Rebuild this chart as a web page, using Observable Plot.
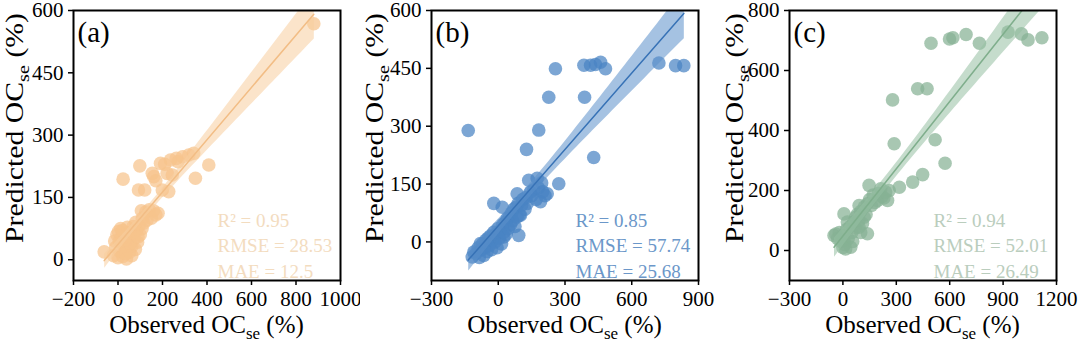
<!DOCTYPE html>
<html><head><meta charset="utf-8">
<script src="https://cdn.jsdelivr.net/npm/d3@7"></script>
<script src="https://cdn.jsdelivr.net/npm/@observablehq/plot@0.6"></script>
<style>
body{margin:0;background:#fff;}
#chart{display:flex;width:1080px;height:342px;}
#chart svg{display:block;}
</style></head><body><div id="chart"></div>
<script>
// ---------- data ----------
const panelLabels = ["(a)", "(b)", "(c)"];
const r2Values = ["0.95", "0.85", "0.94"];
const rmseValues = ["28.53", "57.74", "52.01"];
const maeValues = ["12.5", "25.68", "26.49"];

const xTicksA = [-200, 0, 200, 400, 600, 800, 1000];
const yTicksA = [0, 150, 300, 450, 600];
const xTicksB = [-300, 0, 300, 600, 900];
const yTicksB = [0, 150, 300, 450, 600];
const xTicksC = [-300, 0, 300, 600, 900, 1200];
const yTicksC = [0, 200, 400, 600, 800];

const aObserved = [880, -62, 23, 98, 92, 120, 154, 161, 191, 221, 199, 228, 244, 236, 262, 290, 318, 340, 348, 408, 210, 270, 170,
  105, 125, 140, 160, 180, 150, 130, 115, 170,
  -20, -10, -5, 0, 5, 10, 12, 18, 22, 28, 32, 38, 42, 48, 52, 58, 62, 68, 72, 78, 84, 88, 95, 100, 108, 62, 30, 15, 45, 80,
  -15, 2, 20, 35, 55, 70, 90, 110];
const aPredicted = [568, 19, 194, 226, 168, 168, 208, 200, 232, 208, 168, 164, 204, 240, 244, 248, 252, 256, 196, 228, 230, 236, 190,
  118, 115, 120, 118, 112, 100, 95, 88, 108,
  10, 30, 60, 5, 45, 20, 75, 40, 8, 62, 28, 2, 78, 45, 18, 62, 32, 80, 50, 25, 70, 42, 82, 60, 75, 10, 48, 55, 65, 90,
  45, 68, 70, 15, 40, 65, 55, 100];

const bObserved = [-135, 257, 385, 415, 437, 460, 482, 227, 388, 182, 127, 429, 722, 797, 834,
  137, 175, 272, 195, 85, 145, 220, 190, -20, 18, 100, 92, 25, -110, -80, -117,
  -100, -90, -85, -75, -70, -65, -60, -55, -50, -45, -40, -35, -30, -25, -20, -15, -10, -5, 0, 5, 10, 15, 20, 25, 30, 35, 40, 45, 50, 55, 60, 65, 70, 75, 80, 85, 90, 95, 105, 110, 120, 125, 130, 150, 160, 170, 180, 200, 210];
const bPredicted = [289, 449, 458, 458, 460, 466, 449, 375, 375, 290, 240, 219, 464, 457, 457,
  160, 165, 151, 153, 125, 129, 125, 104, 100, 90, 69, 17, 13, -26, -4, -39,
  -30, -15, -40, -20, -5, -35, -15, 5, -25, 10, -10, 15, -20, 5, 25, 0, 20, -15, 35, 10, 30, -5, 45, 25, 50, 20, 60, 35, 65, 45, 75, 55, 85, 40, 90, 65, 100, 70, 95, 110, 85, 115, 100, 120, 135, 110, 140, 130, 120];

const cObserved = [495, 599, 618, 692, 767, 928, 1003, 1040, 1118, 279, 420, 473, 288, 518, 574, 448,
  392, 317, 147, 213, 260, 194, 251, 138, 91, 6, 72, 119, 91, 138, -50, 6, 44,
  -40, -30, -20, -10, 0, 10, 20, 30, 40, 50, 60, 70, 80, 90, 100, 110, 120, 130, 150, 160, 170, 180, 200, 220, 230, 240, 25, 55, 100, 0, 15];
const cPredicted = [691, 705, 709, 720, 691, 728, 722, 702, 709, 502, 539, 539, 356, 369, 291, 253,
  228, 211, 217, 206, 200, 167, 167, 156, 150, 122, 111, 111, 78, 56, 50, 33, 11,
  55, 40, 60, 30, 50, 20, 70, 40, 80, 60, 95, 75, 120, 100, 130, 90, 145, 120, 170, 150, 185, 160, 190, 180, 175, 195, 95, 30, 60, 10, 5];

// ---------- drawing ----------
const fmt = d3.format("d");
function panel(cfg) {
  const data = cfg.obs.map((x, i) => ({x, y: cfg.pred[i]}));
  const W = 360, plotW = 267;
  const metrics = `R² = ${cfg.r2}\nRMSE = ${cfg.rmse}\nMAE = ${cfg.mae}`;
  const svg = Plot.plot({
    width: W, height: 342,
    marginLeft: cfg.ml, marginRight: W - cfg.ml - plotW, marginTop: 10, marginBottom: 62,
    style: {fontFamily: "'Liberation Serif', 'Times New Roman', serif", fontSize: "20px", color: "black", background: "white", overflow: "visible"},
    x: {domain: cfg.xDomain},
    y: {domain: cfg.yDomain},
    marks: [
      Plot.dot(data, {x: "x", y: "y", r: 6.8, fill: cfg.color, fillOpacity: 0.72, stroke: "none", clip: true}),
      Plot.linearRegressionY(data, {x: "x", y: "y", stroke: cfg.line, strokeWidth: 1.5, fill: cfg.band, fillOpacity: 0.55, clip: true}),
      Plot.axisX({ticks: cfg.xTicks, tickFormat: fmt, tickSize: 5, tickPadding: 6, fontSize: 21, label: null, strokeWidth: 1.5}),
      Plot.axisY({ticks: cfg.yTicks, tickFormat: fmt, tickSize: 5, tickPadding: 5, fontSize: 21, label: null, strokeWidth: 1.5}),
      Plot.frame({stroke: "black", strokeWidth: 2}),
      Plot.text([cfg.label], {frameAnchor: "top-left", textAnchor: "start", lineAnchor: "top", dx: 4, dy: 11, fontSize: 29, fill: "black"}),
      Plot.text([metrics], {frameAnchor: "bottom-left", textAnchor: "start", lineAnchor: "bottom", lineHeight: 1.34, dx: 144, dy: -3, fontSize: 19, fill: cfg.textColor})
    ]
  });
  const s = d3.select(svg);
  // x axis label with subscript
  const xl = s.append("text").attr("x", cfg.ml + plotW / 2).attr("y", 333)
    .attr("text-anchor", "middle").attr("font-size", 25).attr("fill", "black");
  xl.append("tspan").text("Observed OC");
  xl.append("tspan").attr("font-size", 17).attr("dy", 6).text("se");
  xl.append("tspan").attr("dy", -6).text(" (%)");
  // y axis label with subscript (stretched along its length like the reference)
  const yl = s.append("text").attr("transform", `translate(23,243) rotate(-90)`)
    .attr("text-anchor", "start").attr("font-size", 25).attr("fill", "black")
    .attr("textLength", 230).attr("lengthAdjust", "spacingAndGlyphs");
  yl.append("tspan").text("Predicted OC");
  yl.append("tspan").attr("font-size", 17).attr("dy", 6).text("se");
  yl.append("tspan").attr("dy", -6).text(" (%)");
  return svg;
}

const chart = document.getElementById("chart");
chart.appendChild(panel({
  obs: aObserved, pred: aPredicted, ml: 73, xDomain: [-200, 1000], yDomain: [-50, 600],
  xTicks: xTicksA, yTicks: yTicksA, label: panelLabels[0], r2: r2Values[0], rmse: rmseValues[0], mae: maeValues[0],
  color: "#F6C48C", line: "#F2BD85", band: "#F7CD9E", textColor: "#F3DCBF"
}));
chart.appendChild(panel({
  obs: bObserved, pred: bPredicted, ml: 71, xDomain: [-300, 900], yDomain: [-100, 600],
  xTicks: xTicksB, yTicks: yTicksB, label: panelLabels[1], r2: r2Values[1], rmse: rmseValues[1], mae: maeValues[1],
  color: "#4A84C3", line: "#3772B6", band: "#5B90CB", textColor: "#6B97C9"
}));
chart.appendChild(panel({
  obs: cObserved, pred: cPredicted, ml: 69, xDomain: [-300, 1200], yDomain: [-100, 800],
  xTicks: xTicksC, yTicks: yTicksC, label: panelLabels[2], r2: r2Values[2], rmse: rmseValues[2], mae: maeValues[2],
  color: "#87B294", line: "#7FAE8C", band: "#96BFA2", textColor: "#BACDBD"
}));
</script>
</body></html>
